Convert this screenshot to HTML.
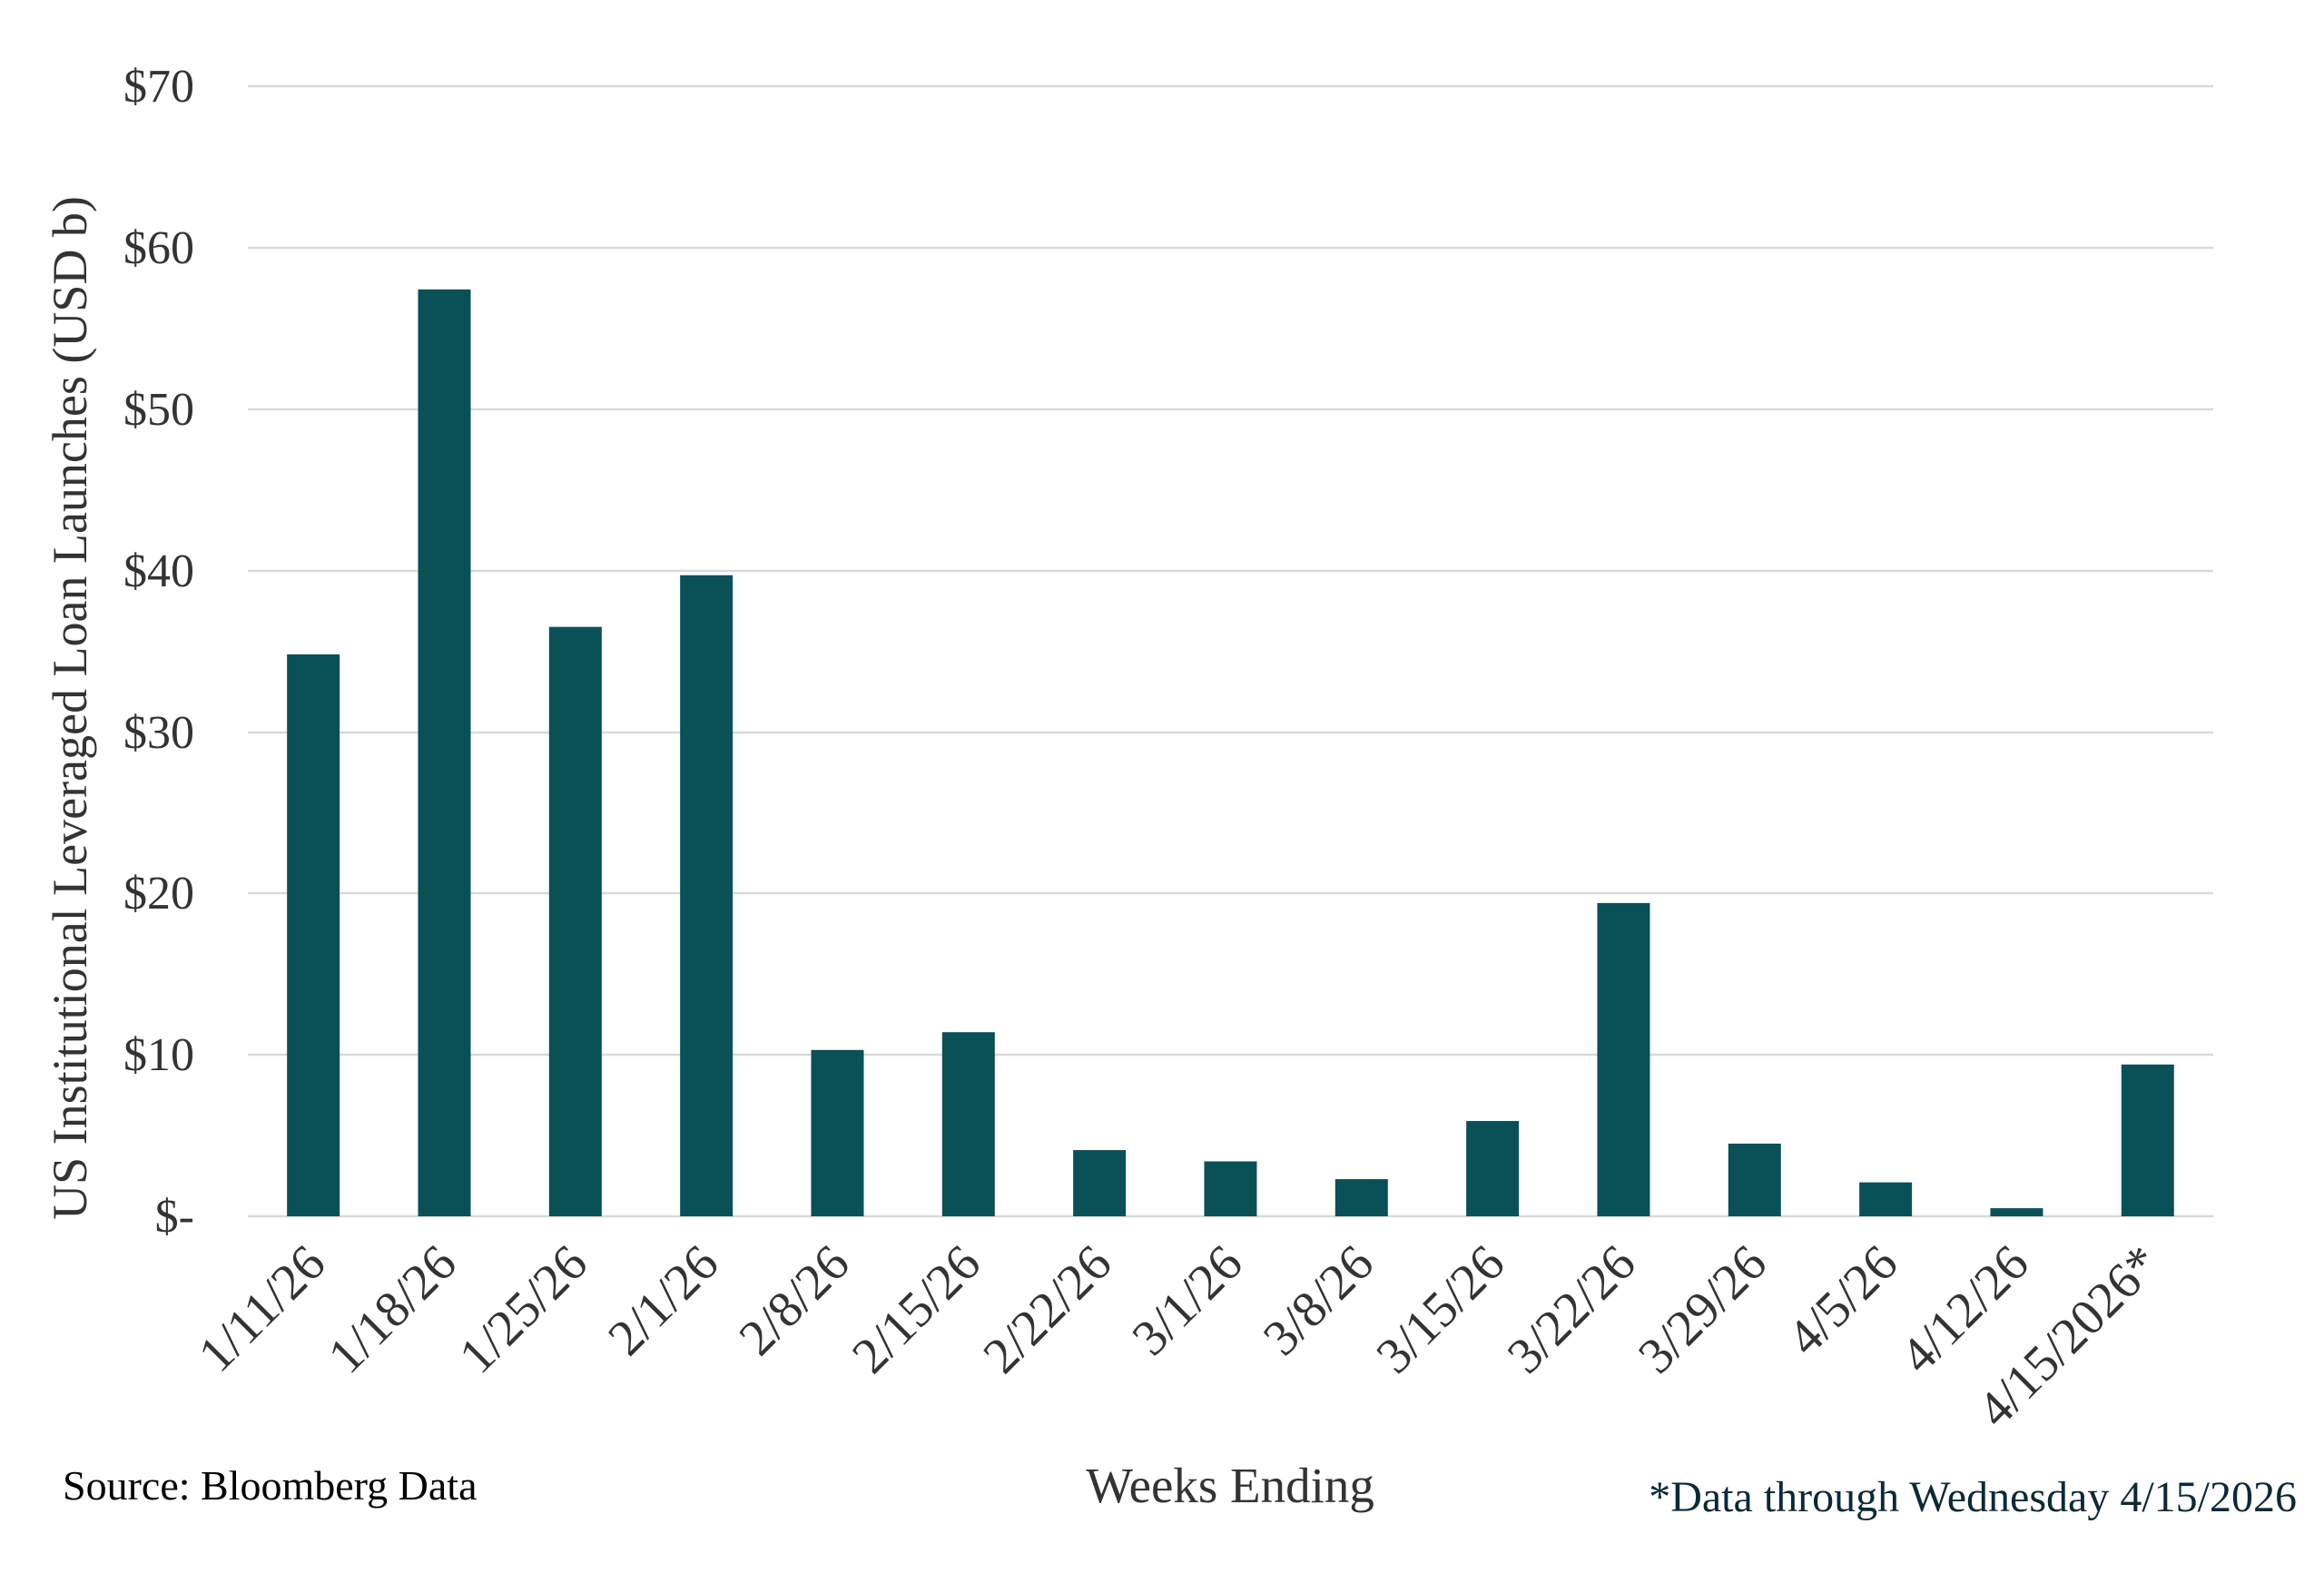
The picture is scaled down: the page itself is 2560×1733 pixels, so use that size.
<!DOCTYPE html>
<html><head><meta charset="utf-8"><style>
html,body{margin:0;padding:0;background:#fff;}
svg{display:block;}
text{font-family:"Liberation Serif",serif;}
</style></head><body>
<svg width="2560" height="1733" viewBox="0 0 2560 1733" xmlns="http://www.w3.org/2000/svg">
<g stroke="#d9d9d9" stroke-width="2.5">
<line x1="273" y1="95" x2="2438" y2="95"/>
<line x1="273" y1="273" x2="2438" y2="273"/>
<line x1="273" y1="451" x2="2438" y2="451"/>
<line x1="273" y1="629" x2="2438" y2="629"/>
<line x1="273" y1="807" x2="2438" y2="807"/>
<line x1="273" y1="984" x2="2438" y2="984"/>
<line x1="273" y1="1162" x2="2438" y2="1162"/>
<line x1="273" y1="1340" x2="2438" y2="1340"/>
</g>
<g fill="#333" font-size="52" text-anchor="end">
<text x="214" y="112">$70</text>
<text x="214" y="290">$60</text>
<text x="214" y="468">$50</text>
<text x="214" y="646">$40</text>
<text x="214" y="824">$30</text>
<text x="214" y="1001">$20</text>
<text x="214" y="1179">$10</text>
<text x="214" y="1357">$-</text>
</g>
<text transform="translate(95,780) rotate(-90)" text-anchor="middle" font-size="54" fill="#333">US Institutional Leveraged Loan Launches (USD b)</text>
<g fill="#0a5057" id="bars"></g>
<g fill="#333" font-size="56" id="labels"></g>
<text x="1355" y="1655" text-anchor="middle" font-size="55" fill="#333">Weeks Ending</text>
<text x="69" y="1652" font-size="46" fill="#000">Source: Bloomberg Data</text>
<text x="2530" y="1665" text-anchor="end" font-size="48" fill="#0b2a35">*Data through Wednesday 4/15/2026</text>
<script>
var v=[34.8,57.4,36.5,39.7,10.3,11.4,4.1,3.4,2.3,5.9,19.4,4.5,2.1,0.5,9.4];
var l=["1/11/26","1/18/26","1/25/26","2/1/26","2/8/26","2/15/26","2/22/26","3/1/26","3/8/26","3/15/26","3/22/26","3/29/26","4/5/26","4/12/26","4/15/2026*"];
var ns="http://www.w3.org/2000/svg",b=document.getElementById("bars"),t=document.getElementById("labels");
for(var i=0;i<15;i++){var cx=273+144.33*(i+0.5),h=v[i]*17.79;
var r=document.createElementNS(ns,"rect");r.setAttribute("x",cx-29);r.setAttribute("y",1340-h);r.setAttribute("width",58);r.setAttribute("height",h);b.appendChild(r);
var x=document.createElementNS(ns,"text");x.setAttribute("text-anchor","end");x.setAttribute("transform","translate("+(cx+16)+",1395) rotate(-45)");x.textContent=l[i];t.appendChild(x);}
</script>
</svg>
</body></html>
